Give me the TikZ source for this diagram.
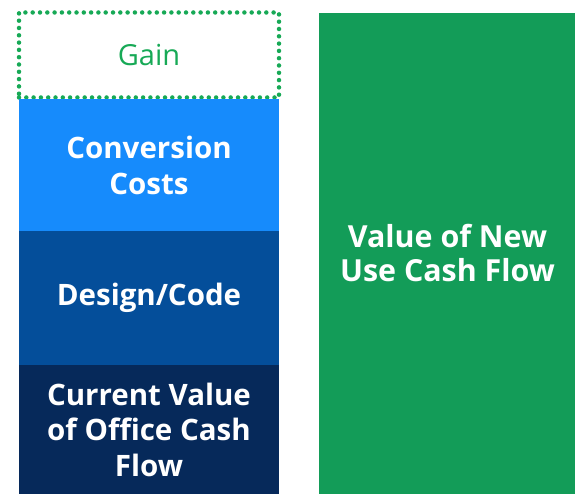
\documentclass[tikz,border=0pt]{standalone}
\usepackage{fontspec}
\setmainfont{Open Sans}
\usepackage{xcolor}
\usetikzlibrary{positioning}

\definecolor{gaingreen}{HTML}{17A956}
\definecolor{convblue}{HTML}{168BFC}
\definecolor{designblue}{HTML}{044E9A}
\definecolor{officenavy}{HTML}{06295A}
\definecolor{usegreen}{HTML}{139C58}

\tikzset{
  layerbox/.style={
    minimum width=260pt, inner sep=0pt, outer sep=0pt,
    text=white, align=center,
    font=\bfseries\fontsize{29.5}{35.5}\selectfont
  },
  gainbox/.style={
    draw=gaingreen, line width=4.5pt, line cap=round,
    dash pattern=on 0pt off 7.3pt,
    minimum width=260pt, minimum height=85pt,
    inner sep=0pt, outer sep=0pt,
    text=gaingreen, font=\fontsize{29}{34}\selectfont
  }
}

\begin{document}
\begin{tikzpicture}[x=1pt, y=1pt]
  \useasboundingbox (0,0) rectangle (575,-494);
  % left stack
  \node[gainbox] (gain) at (149,-55) {Gain};
  \node[layerbox, fill=convblue, minimum height=132pt, below=2pt of gain] (conv) {Conversion\\Costs};
  \node[layerbox, fill=designblue, minimum height=133pt, below=0pt of conv] (design) {Design/Code};
  \node[layerbox, fill=officenavy, minimum height=130pt, below=0pt of design] (office) {Current Value\\of Office Cash\\Flow};
  % right column
  \node[layerbox, fill=usegreen, minimum width=257pt, minimum height=481pt,
    font=\bfseries\fontsize{30.4}{34}\selectfont,
    anchor=north west] (newuse) at (319,-13) {Value of New\\Use Cash Flow};
\end{tikzpicture}
\end{document}
